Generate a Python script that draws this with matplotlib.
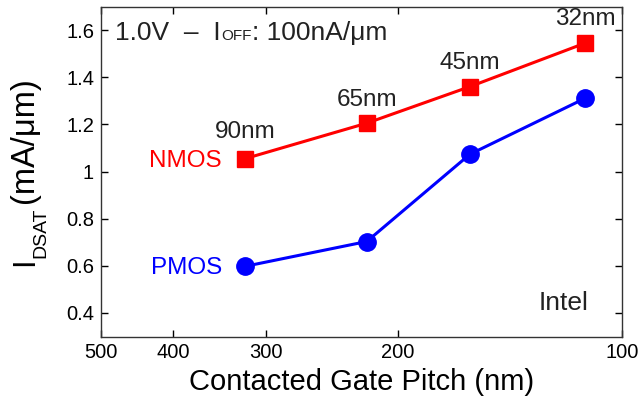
import matplotlib
matplotlib.use("Agg")
import matplotlib.pyplot as plt
from matplotlib.ticker import FixedLocator, FixedFormatter, NullLocator

plt.rcParams['font.family'] = ['Liberation Sans', 'DejaVu Sans']

# data
nodes = ["90nm", "65nm", "45nm", "32nm"]
gate_pitch = [320, 220, 160, 112]
nmos = [1.055, 1.205, 1.36, 1.545]
pmos = [0.598, 0.703, 1.073, 1.311]
xticks = [500, 400, 300, 200, 100]
xticklabels = ["500", "400", "300", "200", "100"]
yticks = [0.4, 0.6, 0.8, 1.0, 1.2, 1.4, 1.6]
yticklabels = ["0.4", "0.6", "0.8", "1", "1.2", "1.4", "1.6"]

TXT = '#222222'
W, H = 644, 400

fig = plt.figure(figsize=(6.44, 4.0), dpi=100)
ax = fig.add_axes([101/W, 1 - 336.5/H, (622-101)/W, (336.5-6.5)/H])

ax.plot(gate_pitch, nmos, color='#ff0000', lw=2.2, marker='s', ms=11.5, zorder=3)
ax.plot(gate_pitch, pmos, color='#0000ff', lw=2.2, marker='o', ms=12.5, zorder=3)

ax.set_xscale('log')
ax.set_xlim(500, 100)
ax.set_ylim(0.3, 1.7)
ax.xaxis.set_major_locator(FixedLocator(xticks))
ax.xaxis.set_major_formatter(FixedFormatter(xticklabels))
ax.xaxis.set_minor_locator(NullLocator())
ax.set_yticks(yticks)
ax.set_yticklabels(yticklabels)
ax.tick_params(direction='in', length=5, width=1, top=True, right=True,
               labelsize=14.5, colors='#000000')
ax.tick_params(axis='x', pad=5)
ax.tick_params(axis='y', pad=5)
for s in ax.spines.values():
    s.set_linewidth(1.0)
    s.set_color('#333333')

ax.set_xlabel("Contacted Gate Pitch (nm)", fontsize=21, labelpad=4)

# y label built from pieces: I + lowered subscript DSAT + (mA/μm)
fig.text(33/W, 1 - 266/H, "I", rotation=90, rotation_mode='anchor',
         ha='left', va='baseline', fontsize=22)
fig.text(45/W, 1 - 257.5/H, "DSAT", rotation=90, rotation_mode='anchor',
         ha='left', va='baseline', fontsize=14)
fig.text(33/W, 1 - 203/H, "(mA/μm)", rotation=90, rotation_mode='anchor',
         ha='left', va='baseline', fontsize=23.5)

# node labels above NMOS points
offs = [19, 17, 17, 17]
for n, x, y, o in zip(nodes, gate_pitch, nmos, offs):
    ax.annotate(n, xy=(x, y), xytext=(0, o), textcoords='offset points',
                ha='center', va='center', fontsize=17.5, color=TXT)

ax.annotate("NMOS", xy=(gate_pitch[0], nmos[0]), xytext=(-17, -2),
            textcoords='offset points', ha='right', va='center',
            fontsize=17.5, color='#ff0000')
ax.annotate("PMOS", xy=(gate_pitch[0], pmos[0]), xytext=(-17, -1),
            textcoords='offset points', ha='right', va='center',
            fontsize=17.5, color='#0000ff')

ax.text(0.935, 0.10, "Intel", transform=ax.transAxes, ha='right', va='center',
        fontsize=19, color=TXT)

# header text: 1.0V – I_OFF: 100nA/μm
base_y = (336.5 - 40) / 330
t1 = ax.text(0.026, base_y, "1.0V  –  I", transform=ax.transAxes, ha='left',
             va='baseline', fontsize=19, color=TXT)
t2 = ax.annotate("OFF", xy=(1, base_y), xycoords=(t1, ax.transAxes),
                 xytext=(1, 0), textcoords='offset points',
                 ha='left', va='baseline', fontsize=11, color=TXT)
t3 = ax.annotate(": 100nA/μm", xy=(1, base_y), xycoords=(t2, ax.transAxes),
                 ha='left', va='baseline', fontsize=19, color=TXT)

fig.savefig("out.png", dpi=100)
